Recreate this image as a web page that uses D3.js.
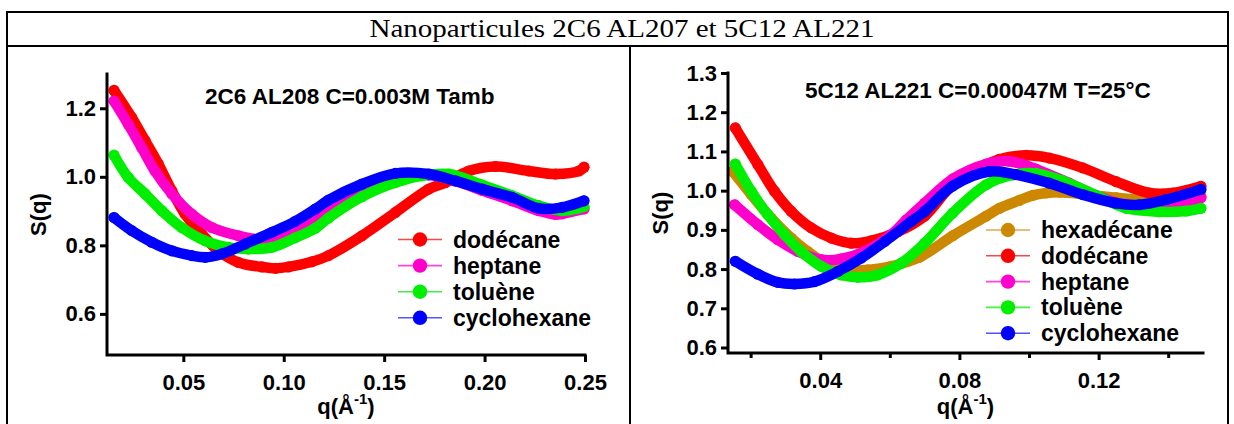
<!DOCTYPE html>
<html>
<head>
<meta charset="utf-8">
<script src="https://cdn.jsdelivr.net/npm/d3@7"></script>
<style>
  html, body { margin: 0; padding: 0; background: #fff; }
  svg { display: block; }
  .lab { font-family: "Liberation Sans", Arial, sans-serif; font-weight: bold; fill: #000; }
</style>
</head>
<body>
<svg id="fig" width="1234" height="424"></svg>
<script>
// ---- Panel A : 2C6 AL208, C = 0.003 M, Tamb ----
const leftTitle = "2C6 AL208 C=0.003M Tamb";
const leftYTicks = [0.6, 0.8, 1.0, 1.2];
const leftXTicks = [0.05, 0.10, 0.15, 0.20, 0.25];

const leftDodecaneQ = [0.0155, 0.0243, 0.031, 0.0376, 0.0443, 0.0509, 0.0592, 0.0675, 0.0775, 0.0891, 0.0960, 0.1024, 0.114, 0.1223, 0.139, 0.1556, 0.1722, 0.1805, 0.1921, 0.2054, 0.222, 0.2353, 0.247, 0.2495];
const leftDodecaneS = [1.252, 1.173, 1.105, 1.037, 0.959, 0.891, 0.833, 0.784, 0.750, 0.737, 0.733, 0.737, 0.752, 0.770, 0.828, 0.896, 0.964, 0.983, 1.017, 1.030, 1.017, 1.008, 1.017, 1.028];

const leftHeptaneQ = [0.0155, 0.0226, 0.0293, 0.0359, 0.0443, 0.0542, 0.0642, 0.0775, 0.0874, 0.1007, 0.1057, 0.114, 0.1223, 0.139, 0.1556, 0.1722, 0.1855, 0.1988, 0.2137, 0.227, 0.2353, 0.2387, 0.2495];
const leftHeptaneS = [1.221, 1.153, 1.085, 1.017, 0.950, 0.891, 0.852, 0.828, 0.818, 0.833, 0.850, 0.872, 0.900, 0.960, 0.998, 1.005, 0.988, 0.960, 0.930, 0.901, 0.890, 0.892, 0.906];

const leftTolueneQ = [0.0155, 0.0226, 0.031, 0.0393, 0.0492, 0.0609, 0.0725, 0.0824, 0.0941, 0.1057, 0.1157, 0.1223, 0.139, 0.1556, 0.1689, 0.1822, 0.1988, 0.2137, 0.227, 0.2387, 0.2495];
const leftTolueneS = [1.063, 0.998, 0.950, 0.901, 0.852, 0.813, 0.794, 0.789, 0.794, 0.822, 0.850, 0.880, 0.942, 0.983, 1.003, 1.008, 0.976, 0.945, 0.916, 0.901, 0.913];

const leftCyclohexaneQ = [0.0155, 0.0243, 0.0343, 0.0443, 0.0542, 0.0609, 0.0692, 0.0808, 0.0941, 0.1057, 0.1157, 0.1223, 0.139, 0.1556, 0.1722, 0.1855, 0.1988, 0.2137, 0.227, 0.2387, 0.2495];
const leftCyclohexaneS = [0.881, 0.843, 0.809, 0.784, 0.770, 0.765, 0.775, 0.804, 0.838, 0.870, 0.906, 0.932, 0.979, 1.010, 1.008, 0.988, 0.964, 0.940, 0.908, 0.911, 0.930];

// ---- Panel B : 5C12 AL221, C = 0.00047 M, T = 25 °C ----
const rightTitle = "5C12 AL221 C=0.00047M T=25°C";
const rightYTicks = [0.6, 0.7, 0.8, 0.9, 1.0, 1.1, 1.2, 1.3];
const rightXTicks = [0.04, 0.08, 0.12];
const rightXMinorTicks = [0.02, 0.06, 0.10, 0.14];

const rightHexadecaneQ = [0.0149, 0.0202, 0.0259, 0.0317, 0.0364, 0.0422, 0.0479, 0.0537, 0.0604, 0.0685, 0.0781, 0.0877, 0.0915, 0.0972, 0.1011, 0.1049, 0.1088, 0.1164, 0.125, 0.135, 0.145, 0.1494];
const rightHexadecaneS = [1.049, 0.990, 0.930, 0.879, 0.845, 0.811, 0.798, 0.798, 0.807, 0.830, 0.885, 0.935, 0.955, 0.975, 0.988, 0.994, 0.996, 0.990, 0.982, 0.975, 0.978, 0.985];

const rightDodecaneQ = [0.0156, 0.0221, 0.0269, 0.0317, 0.0374, 0.0432, 0.0489, 0.0546, 0.0623, 0.07, 0.0781, 0.0877, 0.0915, 0.0992, 0.1059, 0.1154, 0.125, 0.1346, 0.1413, 0.1494];
const rightDodecaneS = [1.160, 1.066, 0.998, 0.947, 0.905, 0.879, 0.866, 0.872, 0.895, 0.935, 1.015, 1.066, 1.080, 1.090, 1.083, 1.058, 1.023, 0.994, 0.994, 1.011];

const rightHeptaneQ = [0.0154, 0.0221, 0.0278, 0.0336, 0.0403, 0.046, 0.0527, 0.0604, 0.0647, 0.07, 0.0781, 0.0877, 0.0943, 0.1020, 0.1116, 0.1212, 0.1279, 0.1374, 0.1451, 0.1494];
const rightHeptaneS = [0.964, 0.913, 0.875, 0.845, 0.824, 0.826, 0.845, 0.888, 0.925, 0.968, 1.030, 1.068, 1.075, 1.055, 1.019, 0.981, 0.964, 0.962, 0.970, 0.982];

const rightTolueneQ = [0.0156, 0.0202, 0.0249, 0.0297, 0.0345, 0.0403, 0.046, 0.0508, 0.0565, 0.0633, 0.07, 0.0781, 0.0877, 0.0953, 0.102, 0.1097, 0.1193, 0.1279, 0.1374, 0.1451, 0.1494];
const rightTolueneS = [1.068, 0.998, 0.939, 0.888, 0.845, 0.807, 0.785, 0.779, 0.785, 0.815, 0.866, 0.943, 1.015, 1.040, 1.044, 1.025, 0.988, 0.955, 0.946, 0.948, 0.955];

const rightCyclohexaneQ = [0.0156, 0.0221, 0.0278, 0.0326, 0.0384, 0.0451, 0.0518, 0.0585, 0.0661, 0.07, 0.0781, 0.0886, 0.0963, 0.1059, 0.1154, 0.125, 0.1317, 0.1394, 0.1494];
const rightCyclohexaneS = [0.820, 0.787, 0.766, 0.762, 0.768, 0.794, 0.828, 0.870, 0.921, 0.947, 1.012, 1.049, 1.041, 1.019, 0.990, 0.968, 0.964, 0.977, 1.003];

const figureTitle = "Nanoparticules 2C6 AL207 et 5C12 AL221";

const colors = {
  hexadecane: "#cc8800",
  dodecane: "#ff0000",
  heptane: "#ff00cc",
  toluene: "#00ee00",
  cyclohexane: "#0000ff"
};
const legendLineColors = {
  hexadecane: "#ddaa55",
  dodecane: "#ff4444",
  heptane: "#ff44dd",
  toluene: "#44ee44",
  cyclohexane: "#5555ff"
};

const zip = (qs, ss) => qs.map((q, i) => ({ q, s: ss[i] }));

const leftSeries = [
  { key: "dodecane", name: "dodécane", data: zip(leftDodecaneQ, leftDodecaneS) },
  { key: "heptane", name: "heptane", data: zip(leftHeptaneQ, leftHeptaneS) },
  { key: "toluene", name: "toluène", data: zip(leftTolueneQ, leftTolueneS) },
  { key: "cyclohexane", name: "cyclohexane", data: zip(leftCyclohexaneQ, leftCyclohexaneS) }
];
const rightSeries = [
  { key: "hexadecane", name: "hexadécane", data: zip(rightHexadecaneQ, rightHexadecaneS) },
  { key: "dodecane", name: "dodécane", data: zip(rightDodecaneQ, rightDodecaneS) },
  { key: "heptane", name: "heptane", data: zip(rightHeptaneQ, rightHeptaneS) },
  { key: "toluene", name: "toluène", data: zip(rightTolueneQ, rightTolueneS) },
  { key: "cyclohexane", name: "cyclohexane", data: zip(rightCyclohexaneQ, rightCyclohexaneS) }
];

const svg = d3.select("#fig");

// table frame
const frame = svg.append("g").attr("stroke", "#000").attr("stroke-width", 2).attr("fill", "none");
frame.append("path").attr("d", "M7,430 V12 H1228 V430");
frame.append("line").attr("x1", 7).attr("x2", 1228).attr("y1", 46).attr("y2", 46);
frame.append("line").attr("x1", 630).attr("x2", 630).attr("y1", 46).attr("y2", 430);

svg.append("text")
  .attr("x", 622).attr("y", 37)
  .attr("text-anchor", "middle")
  .attr("font-family", "'Liberation Serif', 'Times New Roman', serif")
  .attr("font-size", 26)
  .attr("textLength", 505)
  .attr("lengthAdjust", "spacingAndGlyphs")
  .text(figureTitle);

function drawPanel(cfg) {
  const g = svg.append("g");
  const x = d3.scaleLinear().domain(cfg.xDomain).range([cfg.left, cfg.right]);
  const y = d3.scaleLinear().domain(cfg.yDomain).range([cfg.bottom, cfg.top]);

  // series: thick smooth trace with the data points on top
  const line = d3.line().x(d => x(d.q)).y(d => y(d.s)).curve(d3.curveCatmullRom.alpha(0.5));
  cfg.series.forEach(s => {
    const sg = g.append("g");
    sg.append("path")
      .attr("d", line(s.data))
      .attr("fill", "none")
      .attr("stroke", colors[s.key])
      .attr("stroke-width", 10.5)
      .attr("stroke-linecap", "round")
      .attr("stroke-linejoin", "round");
    sg.selectAll("circle").data(s.data).join("circle")
      .attr("cx", d => x(d.q)).attr("cy", d => y(d.s)).attr("r", 5.6)
      .attr("fill", colors[s.key]);
  });

  // axes
  const yAxis = d3.axisLeft(y).tickValues(cfg.yTicks).tickSize(7).tickPadding(4).tickFormat(d3.format(".1f"));
  const xAxis = d3.axisBottom(x).tickValues(cfg.xTicks).tickSize(7).tickPadding(12).tickFormat(d3.format(".2f"));
  const ya = g.append("g").attr("transform", `translate(${cfg.left},0)`).call(yAxis);
  const xa = g.append("g").attr("transform", `translate(0,${cfg.bottom})`).call(xAxis);
  [ya, xa].forEach(a => {
    a.select(".domain").remove();
    a.selectAll(".tick line").attr("stroke", "#000").attr("stroke-width", 3);
    a.selectAll(".tick text").attr("class", "lab").attr("font-size", 22).attr("fill", "#000")
      .attr("font-family", "'Liberation Sans', Arial, sans-serif").attr("font-weight", "bold");
  });
  if (cfg.xMinor) {
    g.append("g").attr("transform", `translate(0,${cfg.bottom})`)
      .call(d3.axisBottom(x).tickValues(cfg.xMinor).tickSize(5).tickFormat(""))
      .call(a => a.select(".domain").remove())
      .selectAll(".tick line").attr("stroke", "#000").attr("stroke-width", 3);
  }
  g.append("path")
    .attr("d", `M${cfg.left},${cfg.top} V${cfg.bottom} H${cfg.right}`)
    .attr("fill", "none").attr("stroke", "#000").attr("stroke-width", 3)
    .attr("stroke-linecap", "square");

  // axis titles
  g.append("text").attr("class", "lab").attr("font-size", 22)
    .attr("transform", `translate(${cfg.yLabelX},${(cfg.top + cfg.bottom) / 2}) rotate(-90)`)
    .attr("text-anchor", "middle")
    .text("S(q)");
  const xl = g.append("text").attr("class", "lab").attr("font-size", 22)
    .attr("x", (cfg.left + cfg.right) / 2).attr("y", 414).attr("text-anchor", "middle");
  xl.append("tspan").text("q(Å");
  xl.append("tspan").attr("font-size", 15).attr("dy", -10).text("-1");
  xl.append("tspan").attr("dy", 10).text(")");

  // panel title
  g.append("text").attr("class", "lab").attr("font-size", 22.5)
    .attr("x", cfg.titleX).attr("y", cfg.titleY).text(cfg.title);

  // legend
  const lg = g.append("g");
  cfg.series.forEach((s, i) => {
    const cy = cfg.legendY + i * cfg.legendStep;
    lg.append("line").attr("x1", cfg.legendX - 22).attr("x2", cfg.legendX + 22)
      .attr("y1", cy).attr("y2", cy).attr("stroke", legendLineColors[s.key]).attr("stroke-width", 1.6);
    lg.append("circle").attr("cx", cfg.legendX).attr("cy", cy).attr("r", 7.2).attr("fill", colors[s.key]);
    lg.append("text").attr("class", "lab").attr("font-size", 23)
      .attr("x", cfg.legendX + 33).attr("y", cy + 8).text(s.name);
  });
}

drawPanel({
  left: 107, right: 585, top: 74, bottom: 355,
  xDomain: [0.012, 0.25], yDomain: [0.48, 1.3],
  xTicks: leftXTicks, yTicks: leftYTicks,
  series: leftSeries, title: leftTitle, titleX: 205, titleY: 104,
  yLabelX: 46, legendX: 420, legendY: 239.5, legendStep: 26.1
});

drawPanel({
  left: 728, right: 1203, top: 73, bottom: 353,
  xDomain: [0.0135, 0.15], yDomain: [0.586, 1.3],
  xTicks: rightXTicks, xMinor: rightXMinorTicks, yTicks: rightYTicks,
  series: rightSeries, title: rightTitle, titleX: 805, titleY: 98,
  yLabelX: 668, legendX: 1008, legendY: 230, legendStep: 25.8
});
</script>
</body>
</html>
